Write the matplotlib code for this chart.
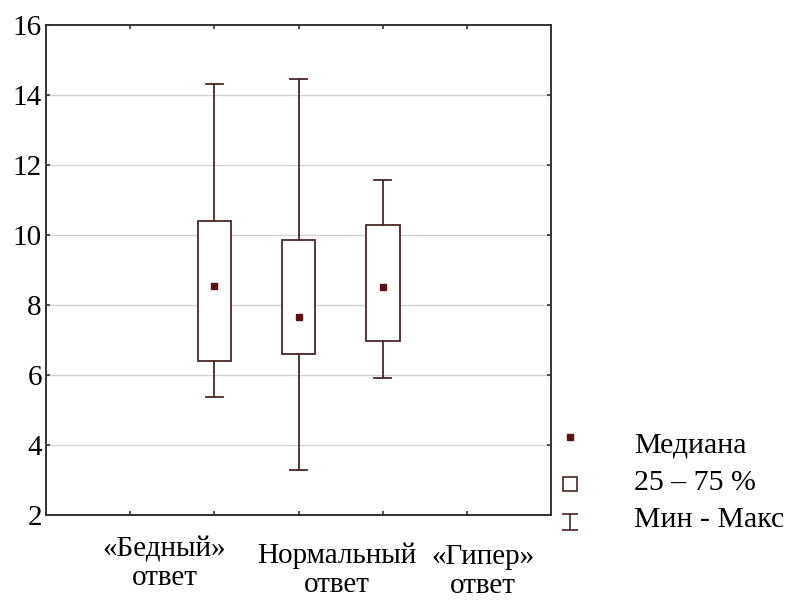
import matplotlib
matplotlib.use("Agg")
import matplotlib.pyplot as plt
from matplotlib.lines import Line2D
from matplotlib.path import Path
from matplotlib.transforms import blended_transform_factory

plt.rcParams['font.family'] = ['Liberation Serif', 'DejaVu Serif']

# Статистики по группам (медиана, квартили, мин/макс)
позиции = [2, 3, 4]
медианы = [8.55, 7.67, 8.51]
q25 = [6.40, 6.60, 6.97]
q75 = [10.41, 9.87, 10.29]
минимумы = [5.37, 3.29, 5.91]
максимумы = [14.31, 14.46, 11.57]

подписи = ['«Бедный»\nответ', 'Нормальный\nответ', '«Гипер»\nответ']
легенда = ['Медиана', '25 – 75 %', 'Мин - Макс']

цвет_линий = '#4a2626'
цвет_медианы = '#5a1212'

fig = plt.figure(figsize=(8, 6.01), dpi=100)
ax = fig.add_axes([0.0575, 0.1431, 0.63125, 0.8153])

stats = []
for i in range(len(позиции)):
    stats.append({'med': медианы[i], 'q1': q25[i], 'q3': q75[i],
                  'whislo': минимумы[i], 'whishi': максимумы[i], 'fliers': []})

lw = 1.3
ax.bxp(stats, positions=позиции, widths=0.4, capwidths=0.2, showfliers=False,
       patch_artist=True,
       boxprops=dict(facecolor='white', edgecolor=цвет_линий, linewidth=lw),
       whiskerprops=dict(color=цвет_линий, linewidth=lw),
       capprops=dict(color=цвет_линий, linewidth=lw),
       medianprops=dict(linewidth=0))
ax.plot(позиции, медианы, 's', color=цвет_медианы, markersize=4.5, zorder=5)

ax.set_xlim(0, 6)
ax.set_ylim(2, 16)
ax.set_xticks([1, 2, 3, 4, 5])
ax.set_xticklabels([])
ax.set_yticks(range(2, 17, 2))
for y in range(4, 16, 2):
    ax.axhline(y, color='#d2d2d2', linewidth=1, zorder=0)

ax.tick_params(axis='both', direction='in', length=3, width=1.2, color='#333333',
               top=True, right=True, labelsize=21, pad=3)
for s in ax.spines.values():
    s.set_color('#333333')
    s.set_linewidth(1.4)

# подписи групп под осью (x в единицах данных, y в долях фигуры)
подпись_x = [1.41, 3.45, 5.19]
подпись_y = [0.0620, 0.0515, 0.0490]
tr = blended_transform_factory(ax.transData, fig.transFigure)
for x, y, t in zip(подпись_x, подпись_y, подписи):
    ax.text(x, y, t, transform=tr, fontsize=21, ha='center', va='center',
            multialignment='center', linespacing=1.15, clip_on=False)

# легенда справа
I_marker = Path([(-1, 1), (1, 1), (0, 1), (0, -1), (-1, -1), (1, -1)],
                [Path.MOVETO, Path.LINETO, Path.MOVETO, Path.LINETO, Path.MOVETO, Path.LINETO])
leg_y = [1 - 437 / 601, 1 - 484 / 601, 1 - 522 / 601]
mx = 570 / 800
fig.add_artist(Line2D([mx], [leg_y[0]], marker='s', color=цвет_медианы, markersize=5, linestyle=''))
fig.add_artist(Line2D([mx], [leg_y[1]], marker='s', markerfacecolor='white',
                      markeredgecolor=цвет_линий, markeredgewidth=1.2, markersize=9.5, linestyle=''))
fig.add_artist(Line2D([mx], [leg_y[2]], marker=I_marker, color=цвет_линий,
                      markeredgewidth=1.2, markersize=11, linestyle=''))
text_y = [1 - 446 / 601, 1 - 483 / 601, 1 - 520 / 601]
for t, y in zip(легенда, text_y):
    fig.text(634 / 800, y, t, fontsize=21.5, ha='left', va='center')

fig.savefig('out.png', dpi=100)
